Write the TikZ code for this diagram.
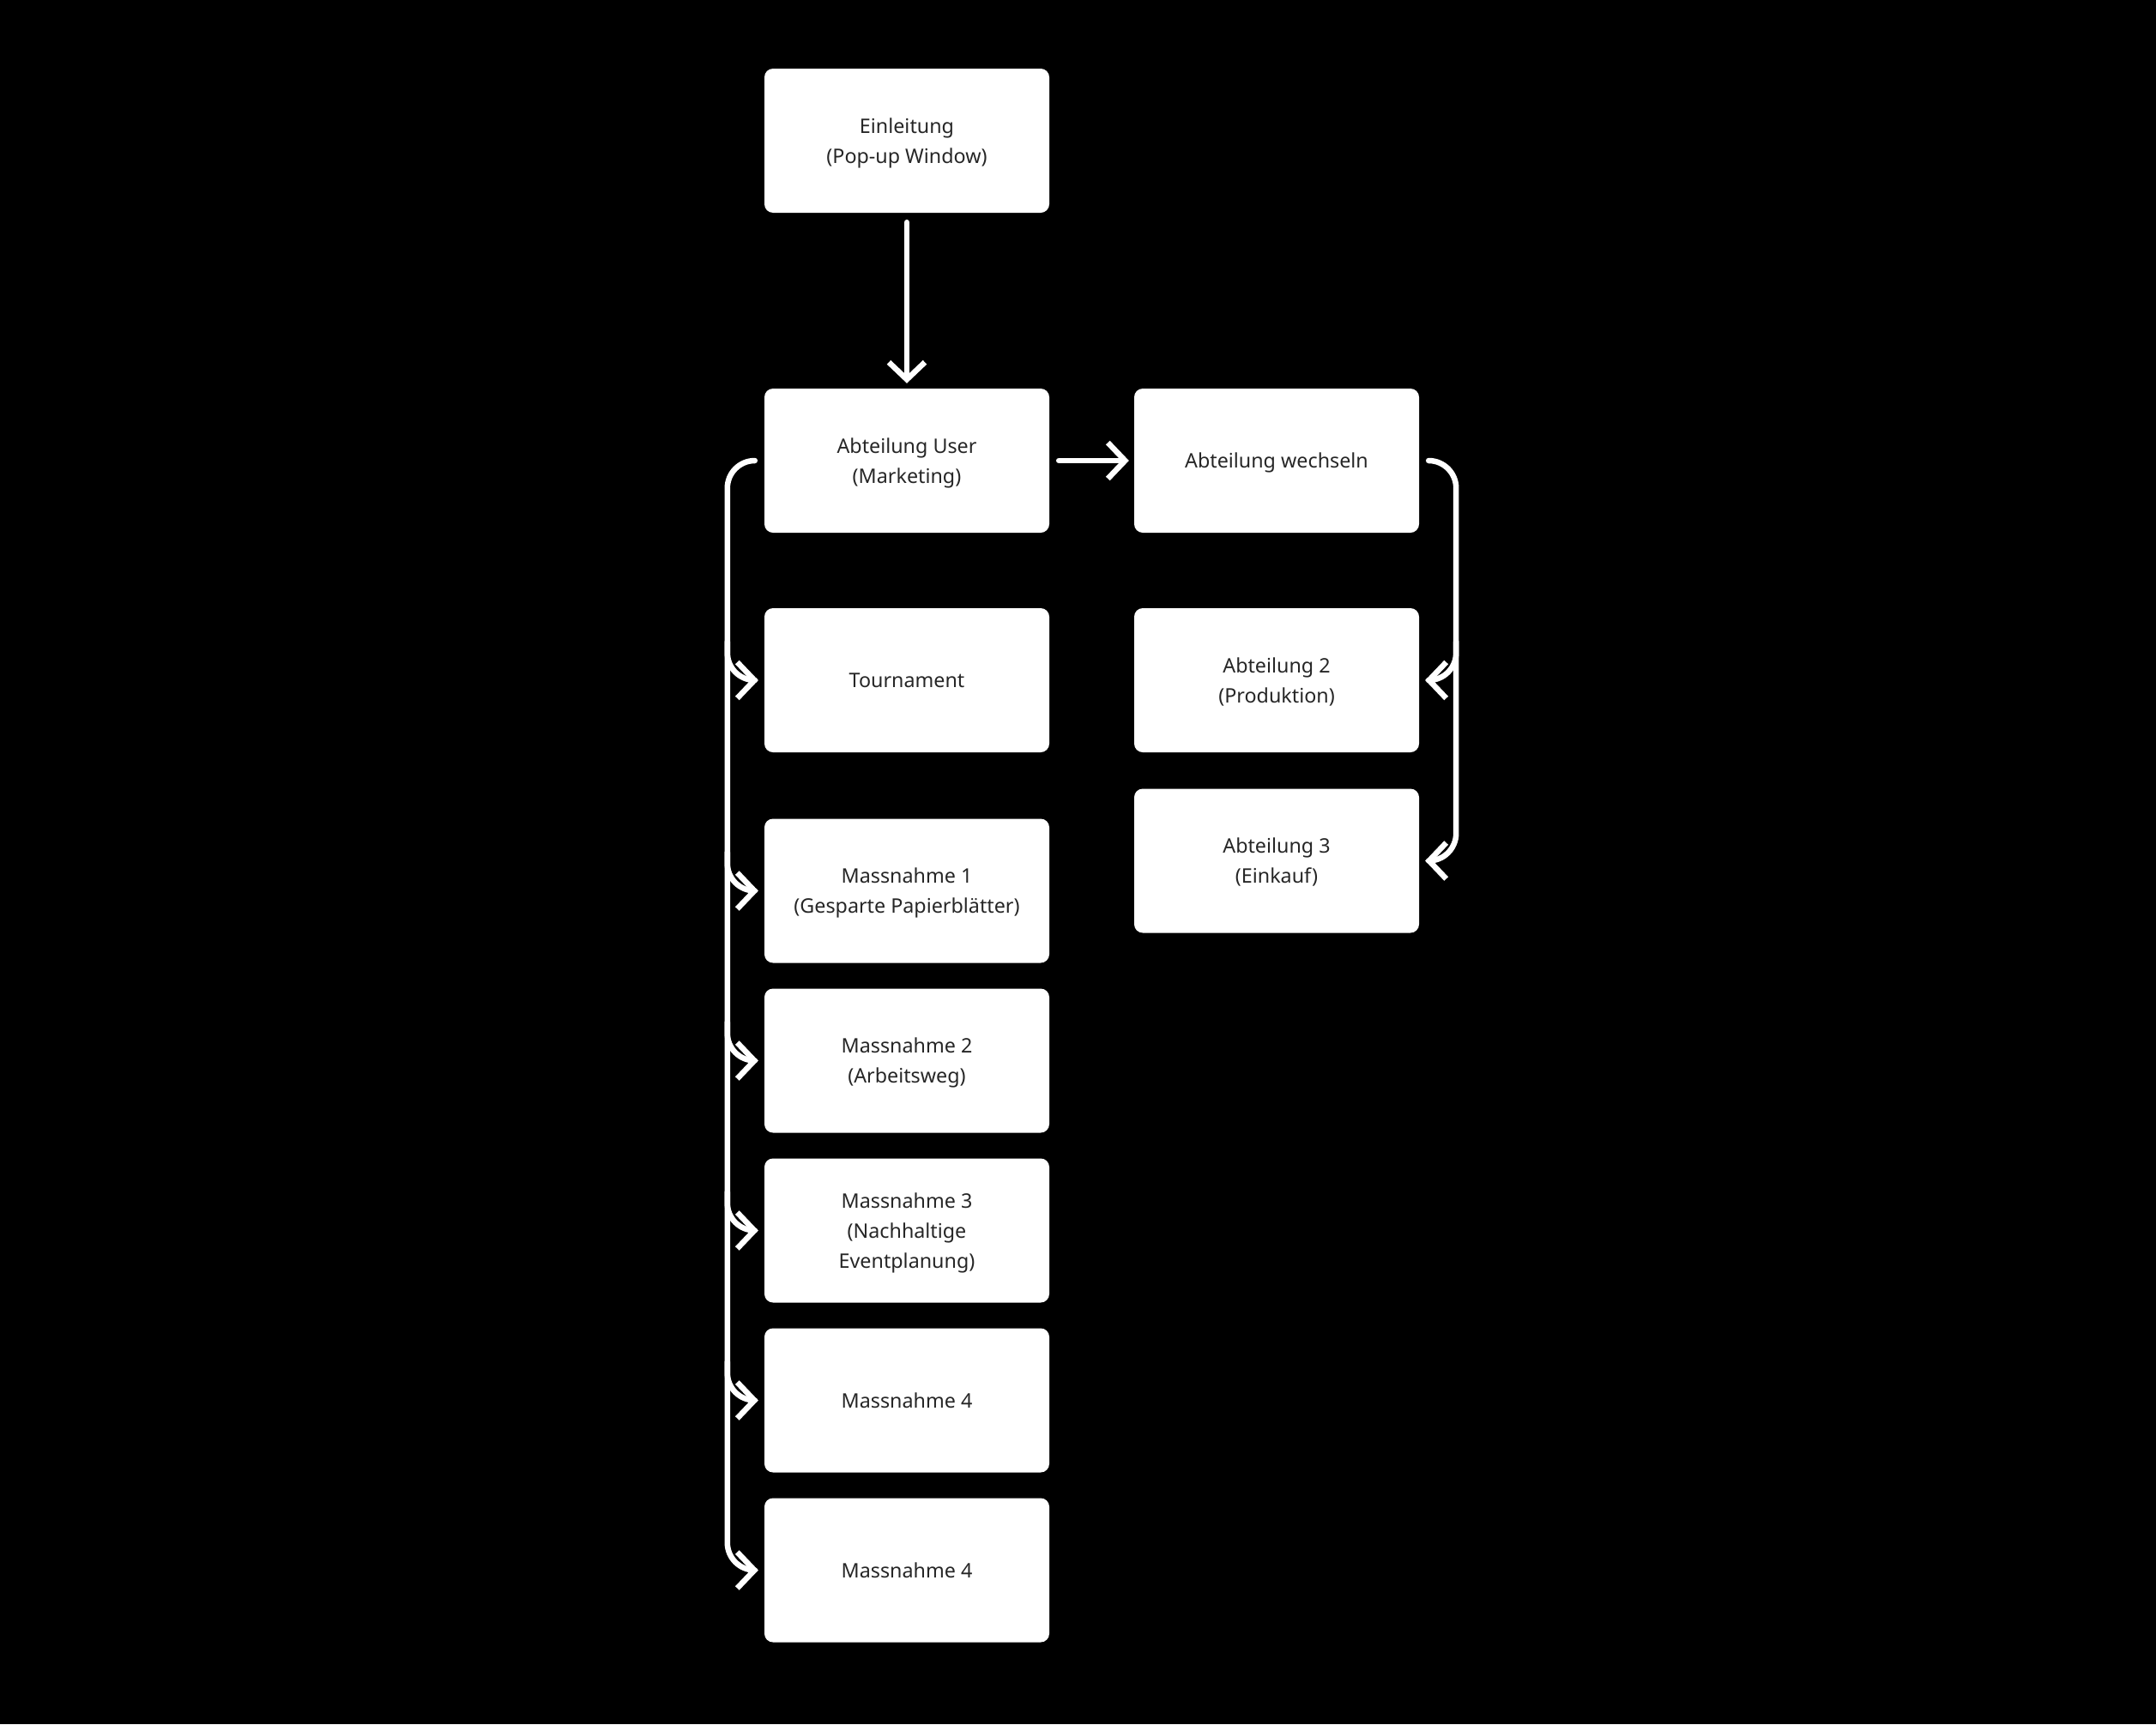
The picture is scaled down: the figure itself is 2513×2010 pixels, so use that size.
\documentclass[tikz,border=0pt]{standalone}
\usepackage{fontspec}
\setmainfont{Noto Sans}
\usetikzlibrary{arrows.meta}
\definecolor{txt}{RGB}{38,38,38}
\begin{document}
\begin{tikzpicture}[x=1pt,y=-1pt,
  box/.style={fill=white, rounded corners=10pt, minimum width=332pt, minimum height=168pt,
    text=txt, align=center, inner sep=0pt, text depth=0pt, font=\fontsize{23.3}{35}\selectfont},
  conn/.style={draw=white, line width=6.5pt, line cap=round, line join=round,
    -{Straight Barb[length=20pt,width=42pt]}},
  bracket/.style={conn, rounded corners=32pt}
]
\fill[black] (0,0) rectangle (2513,2010);
\useasboundingbox (0,0) rectangle (2513,2010);

\node[box] (ein)  at (1057,164)    {Einleitung\\(Pop-up Window)};
\node[box] (user) at (1057,537)    {Abteilung User\\(Marketing)};
\node[box] (wech) at (1488,537)    {Abteilung wechseln};
\node[box] (tour) at (1057,793)    {Tournament};
\node[box] (ab2)  at (1488,793)    {Abteilung 2\\(Produktion)};
\node[box] (ab3)  at (1488,1003.5) {Abteilung 3\\(Einkauf)};
\node[box] (m1)   at (1057,1038.5) {Massnahme 1\\(Gesparte Papierblätter)};
\node[box] (m2)   at (1057,1236.5) {Massnahme 2\\(Arbeitsweg)};
\node[box] (m3)   at (1057,1434.5) {Massnahme 3\\(Nachhaltige\\Eventplanung)};
\node[box] (m4)   at (1057,1632.5) {Massnahme 4};
\node[box] (m5)   at (1057,1830.5) {Massnahme 4};

\draw[conn, shorten <=11pt, shorten >=6pt] (ein.south) -- (user.north);
\draw[conn, shorten <=11pt, shorten >=6pt] (user.east) -- (wech.west);

% left bracket
\draw[bracket] ([xshift=-11pt]user.west) -| ([xshift=-43pt]m5.west) -- ([xshift=-7pt]m5.west);
\foreach \n in {tour,m1,m2,m3,m4}{
  \draw[bracket] ([xshift=-43pt,yshift=45pt]\n.west) |- ([xshift=-7pt]\n.west);
}
% right bracket
\draw[bracket] ([xshift=11pt]wech.east) -| ([xshift=43pt]ab3.east) -- ([xshift=7pt]ab3.east);
\draw[bracket] ([xshift=43pt,yshift=45pt]ab2.east) |- ([xshift=7pt]ab2.east);
\end{tikzpicture}
\end{document}
